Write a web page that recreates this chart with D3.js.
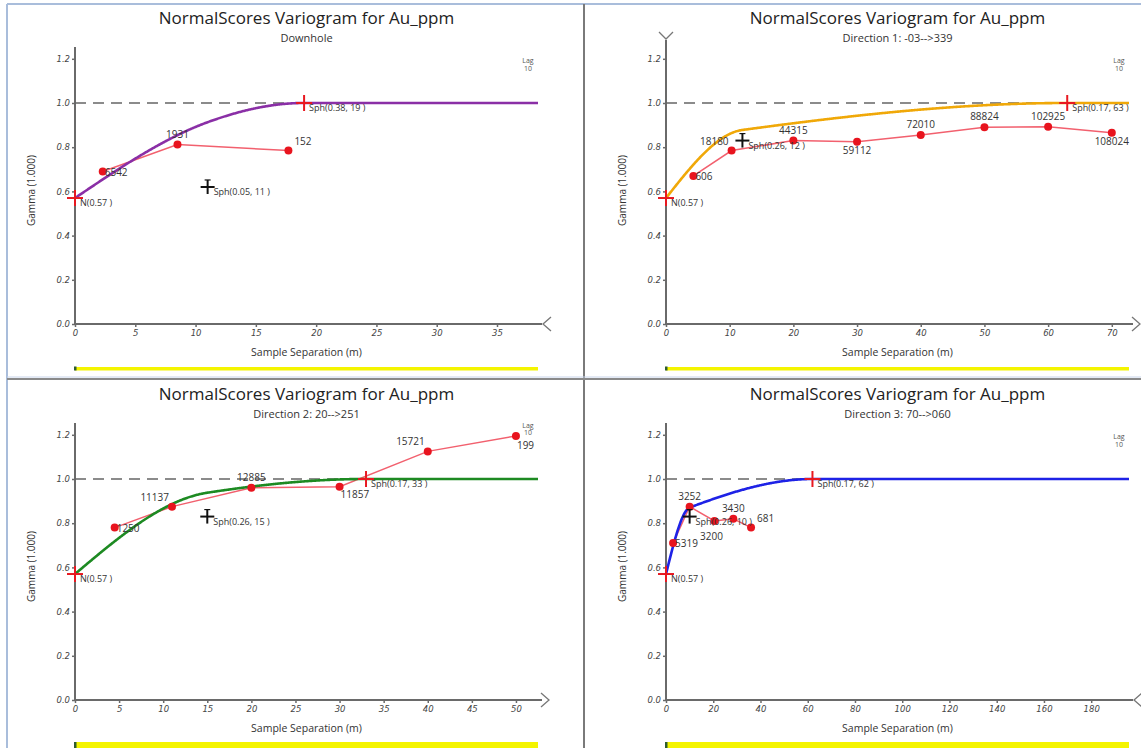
<!DOCTYPE html>
<html><head><meta charset="utf-8">
<script src="https://cdn.jsdelivr.net/npm/d3@7"></script>
<style>
html,body{margin:0;padding:0;background:#fff;}
svg{display:block;}
</style></head>
<body>
<svg id="c" width="1141" height="748"></svg>
<script>
// ---------------- DATA ----------------
const chartTitle = "NormalScores Variogram for Au_ppm";
const subTitles = ["Downhole", "Direction 1: -03-->339", "Direction 2: 20-->251", "Direction 3: 70-->060"];
const xAxisTitle = "Sample Separation (m)";
const yAxisTitle = "Gamma (1.000)";
const lagText = ["Lag", "10"];

// experimental variogram points
const dhLag   = [2.3, 8.5, 17.7];
const dhGamma = [0.69, 0.812, 0.785];
const dhPairs = ["6542", "1931", "152"];

const d1Lag   = [4.3, 10.3, 20, 30, 40, 50, 60, 70];
const d1Gamma = [0.67, 0.785, 0.83, 0.825, 0.855, 0.89, 0.892, 0.865];
const d1Pairs = ["606", "18180", "44315", "59112", "72010", "88824", "102925", "108024"];

const d2Lag   = [4.5, 11, 20, 30, 40, 50];
const d2Gamma = [0.78, 0.875, 0.96, 0.965, 1.125, 1.195];
const d2Pairs = ["1250", "11137", "12885", "11857", "15721", "199"];

const d3Lag   = [3, 10, 20.5, 28.5, 36];
const d3Gamma = [0.71, 0.875, 0.81, 0.82, 0.78];
const d3Pairs = ["5319", "3252", "3200", "3430", "681"];

// model parameters (nugget + nested spherical structures)
const nuggets    = [0.57, 0.57, 0.57, 0.57];
const sills1     = [0.05, 0.26, 0.26, 0.26];
const ranges1    = [11, 12, 15, 10];
const sills2     = [0.38, 0.17, 0.17, 0.17];
const ranges2    = [19, 63, 33, 62];

// axes
const xMaxes  = [38.4, 72.7, 52.5, 196];
const dhTicks = [0, 5, 10, 15, 20, 25, 30, 35];
const d1Ticks = [0, 10, 20, 30, 40, 50, 60, 70];
const d2Ticks = [0, 5, 10, 15, 20, 25, 30, 35, 40, 45, 50];
const d3Ticks = [0, 20, 40, 60, 80, 100, 120, 140, 160, 180];
const yTicks  = [0, 0.2, 0.4, 0.6, 0.8, 1.0, 1.2];
const sillLevel = 1.0;

// ---------------- LAYOUT / STYLE ----------------
const modelColors = ["#8a2fa6", "#f0a808", "#1d8a22", "#1e22e6"];
const labelCodes = [
  ["r", "a", "ar"],
  ["r", "al", "a", "b", "a", "a", "a", "b"],
  ["r", "al", "a", "br", "al", "r2"],
  ["r", "a", "b2", "a", "ar"]
];
const arrowDir = ["left", "right", "right", "left"];
const lagY = [[63, 71], [63, 71], [52, 59], [63, 71]];
const panels = [
  {ox: 0, oy: 0}, {ox: 591, oy: 0}, {ox: 0, oy: 376}, {ox: 591, oy: 376}
];
const expSets = [
  [dhLag, dhGamma, dhPairs], [d1Lag, d1Gamma, d1Pairs],
  [d2Lag, d2Gamma, d2Pairs], [d3Lag, d3Gamma, d3Pairs]
];
const tickSets = [dhTicks, d1Ticks, d2Ticks, d3Ticks];

const FONT = "'Open Sans', 'DejaVu Sans', sans-serif";
const svg = d3.select("#c");

// frame lines
svg.append("line").attr("x1", 7).attr("x2", 1141).attr("y1", 4).attr("y2", 4).attr("stroke", "#a9bddb").attr("stroke-width", 2);
svg.append("line").attr("x1", 7).attr("x2", 7).attr("y1", 4).attr("y2", 748).attr("stroke", "#a9bddb").attr("stroke-width", 2);
svg.append("line").attr("x1", 584).attr("x2", 584).attr("y1", 4).attr("y2", 748).attr("stroke", "#7a7a7a").attr("stroke-width", 2);
svg.append("line").attr("x1", 7).attr("x2", 1141).attr("y1", 379).attr("y2", 379).attr("stroke", "#8a8a8a").attr("stroke-width", 2);
svg.append("line").attr("x1", 7).attr("x2", 1141).attr("y1", 377).attr("y2", 377).attr("stroke", "#c8d4ea").attr("stroke-width", 1);

function sph(h, a) {
  if (h >= a) return 1;
  const r = h / a;
  return 1.5 * r - 0.5 * r * r * r;
}

panels.forEach((p, i) => {
  const g = svg.append("g").attr("transform", `translate(${p.ox},${p.oy})`);
  const x = d3.scaleLinear().domain([0, xMaxes[i]]).range([75, 538]);
  const y = d3.scaleLinear().domain([0, 1.2]).range([324, 324 - 1.2 * 221]);
  const cx = (x.range()[0] + x.range()[1]) / 2;

  // titles
  g.append("text").attr("x", cx).attr("y", 24).attr("text-anchor", "middle")
    .attr("font-family", FONT).attr("font-size", 17).attr("font-weight", 500).attr("fill", "#222").text(chartTitle);
  g.append("text").attr("x", cx).attr("y", 42).attr("text-anchor", "middle")
    .attr("font-family", FONT).attr("font-size", 11).attr("fill", "#333").text(subTitles[i]);

  // lag text
  g.append("text").attr("x", 528).attr("y", lagY[i][0]).attr("text-anchor", "middle")
    .attr("font-family", FONT).attr("font-size", 7).attr("fill", "#555").text(lagText[0]);
  g.append("text").attr("x", 528).attr("y", lagY[i][1]).attr("text-anchor", "middle")
    .attr("font-family", FONT).attr("font-size", 7).attr("fill", "#555").text(lagText[1]);

  // axes lines
  const axCol = "#6a6a6a";
  g.append("line").attr("x1", x(0)).attr("x2", x(0)).attr("y1", i === 1 ? 40 : 47).attr("y2", y(0))
    .attr("stroke", axCol).attr("stroke-width", 2);
  g.append("line").attr("x1", x(0)).attr("x2", x(xMaxes[i]) + 4).attr("y1", y(0)).attr("y2", y(0))
    .attr("stroke", axCol).attr("stroke-width", 2);
  const xe = x(xMaxes[i]), y0 = y(0);
  const arrowPts = arrowDir[i] === "left"
    ? [[xe + 13, y0 - 7], [xe + 5, y0], [xe + 13, y0 + 7]]
    : [[xe + 3, y0 - 7], [xe + 11, y0], [xe + 3, y0 + 7]];
  g.append("path").attr("d", d3.line()(arrowPts)).attr("fill", "none").attr("stroke", "#777").attr("stroke-width", 1.3);
  if (i === 1) {
    g.append("path").attr("d", d3.line()([[x(0) - 7, 32], [x(0), 39], [x(0) + 7, 32]]))
      .attr("fill", "none").attr("stroke", "#777").attr("stroke-width", 1.3);
  }

  // tick axes
  const ya = g.append("g").attr("transform", `translate(${x(0)},0)`)
    .call(d3.axisLeft(y).tickValues(yTicks).tickFormat(d3.format(".1f")).tickSize(3).tickPadding(2));
  const xa = g.append("g").attr("transform", `translate(0,${y(0)})`)
    .call(d3.axisBottom(x).tickValues(tickSets[i]).tickFormat(d3.format("d")).tickSize(3).tickPadding(3));
  [ya, xa].forEach(a => {
    a.select(".domain").remove();
    a.selectAll("line").attr("stroke", axCol).attr("stroke-width", 1.5);
    a.selectAll("text").attr("font-family", "'DejaVu Sans', sans-serif").attr("font-size", 8.5)
      .attr("font-style", "italic").attr("fill", "#444");
  });

  // axis titles
  g.append("text").attr("x", cx).attr("y", 356).attr("text-anchor", "middle")
    .attr("font-family", FONT).attr("font-size", 10.5).attr("fill", "#333").text(xAxisTitle);
  g.append("text").attr("transform", `translate(35,${(y(0) + 47) / 2 + 5}) rotate(-90)`).attr("text-anchor", "middle")
    .attr("font-family", FONT).attr("font-size", 10).attr("fill", "#333").text(yAxisTitle);

  // yellow bar
  g.append("rect").attr("x", x(0)).attr("y", i < 2 ? 367 : 366).attr("width", x(xMaxes[i]) - x(0))
    .attr("height", i < 2 ? 3.5 : 6).attr("fill", "#f4f400");
  g.append("rect").attr("x", x(0) - 1).attr("y", i < 2 ? 366.5 : 366).attr("width", 2.5)
    .attr("height", i < 2 ? 4 : 6).attr("fill", "#2f5d2f");

  // sill dashed line
  g.append("line").attr("x1", x(0)).attr("x2", x(xMaxes[i])).attr("y1", y(sillLevel)).attr("y2", y(sillLevel))
    .attr("stroke", "#666").attr("stroke-width", 1.6).attr("stroke-dasharray", "11,7");

  // experimental line + points
  const [lags, gams, pairs] = expSets[i];
  const pts = lags.map((l, k) => [l, gams[k]]);
  g.append("path").attr("d", d3.line().x(d => x(d[0])).y(d => y(d[1]))(pts))
    .attr("fill", "none").attr("stroke", "#f2606e").attr("stroke-width", 1.5);

  // model curve
  const step = xMaxes[i] / 600;
  const hs = d3.range(0, xMaxes[i] + step / 2, step);
  const model = hs.map(h => [h, nuggets[i] + sills1[i] * sph(h, ranges1[i]) + sills2[i] * sph(h, ranges2[i])]);
  g.append("path").attr("d", d3.line().x(d => x(d[0])).y(d => y(d[1]))(model))
    .attr("fill", "none").attr("stroke", modelColors[i]).attr("stroke-width", 2.6);

  // points
  g.selectAll("circle.pt").data(pts).join("circle").attr("class", "pt")
    .attr("cx", d => x(d[0])).attr("cy", d => y(d[1])).attr("r", 4).attr("fill", "#e8141e");

  // point labels
  const off = {
    r:  [2, 4, "start"], a: [0, -7, "middle"], b: [0, 12, "middle"], b2: [-3, 19, "middle"],
    al: [-3, -6, "end"], ar: [6, -6, "start"], br: [1, 11, "start"], r2: [1, 13, "start"]
  };
  pts.forEach((d, k) => {
    const o = off[labelCodes[i][k]];
    g.append("text").attr("x", x(d[0]) + o[0]).attr("y", y(d[1]) + o[1]).attr("text-anchor", o[2])
      .attr("font-family", FONT).attr("font-size", 10).attr("fill", "#333").text(pairs[k]);
  });

  // structure markers
  function cross(px, py, col, arm) {
    g.append("line").attr("x1", px - arm).attr("x2", px + arm).attr("y1", py).attr("y2", py).attr("stroke", col).attr("stroke-width", 2);
    g.append("line").attr("x1", px).attr("x2", px).attr("y1", py - arm).attr("y2", py + arm).attr("stroke", col).attr("stroke-width", 2);
  }
  function slabel(px, py, txt) {
    g.append("text").attr("x", px + 5).attr("y", py + 8).attr("font-family", FONT).attr("font-size", 9)
      .attr("fill", "#333").text(txt);
  }
  const nug = nuggets[i];
  cross(x(0), y(nug), "#e81820", 8);
  slabel(x(0), y(nug), `N(${nug.toFixed(2)} )`);
  const s1y = nug + sills1[i];
  cross(x(ranges1[i]), y(s1y), "#111", 7);
  g.append("line").attr("x1", x(ranges1[i]) - 3).attr("x2", x(ranges1[i]) + 3).attr("y1", y(s1y) - 7).attr("y2", y(s1y) - 7)
    .attr("stroke", "#111").attr("stroke-width", 1.2);
  slabel(x(ranges1[i]) + 1, y(s1y), `Sph(${sills1[i].toFixed(2)}, ${ranges1[i]} )`);
  const s2y = nug + sills1[i] + sills2[i];
  cross(x(ranges2[i]), y(s2y), "#e81820", 8);
  slabel(x(ranges2[i]), y(s2y), `Sph(${sills2[i].toFixed(2)}, ${ranges2[i]} )`);
});
</script>
</body></html>
